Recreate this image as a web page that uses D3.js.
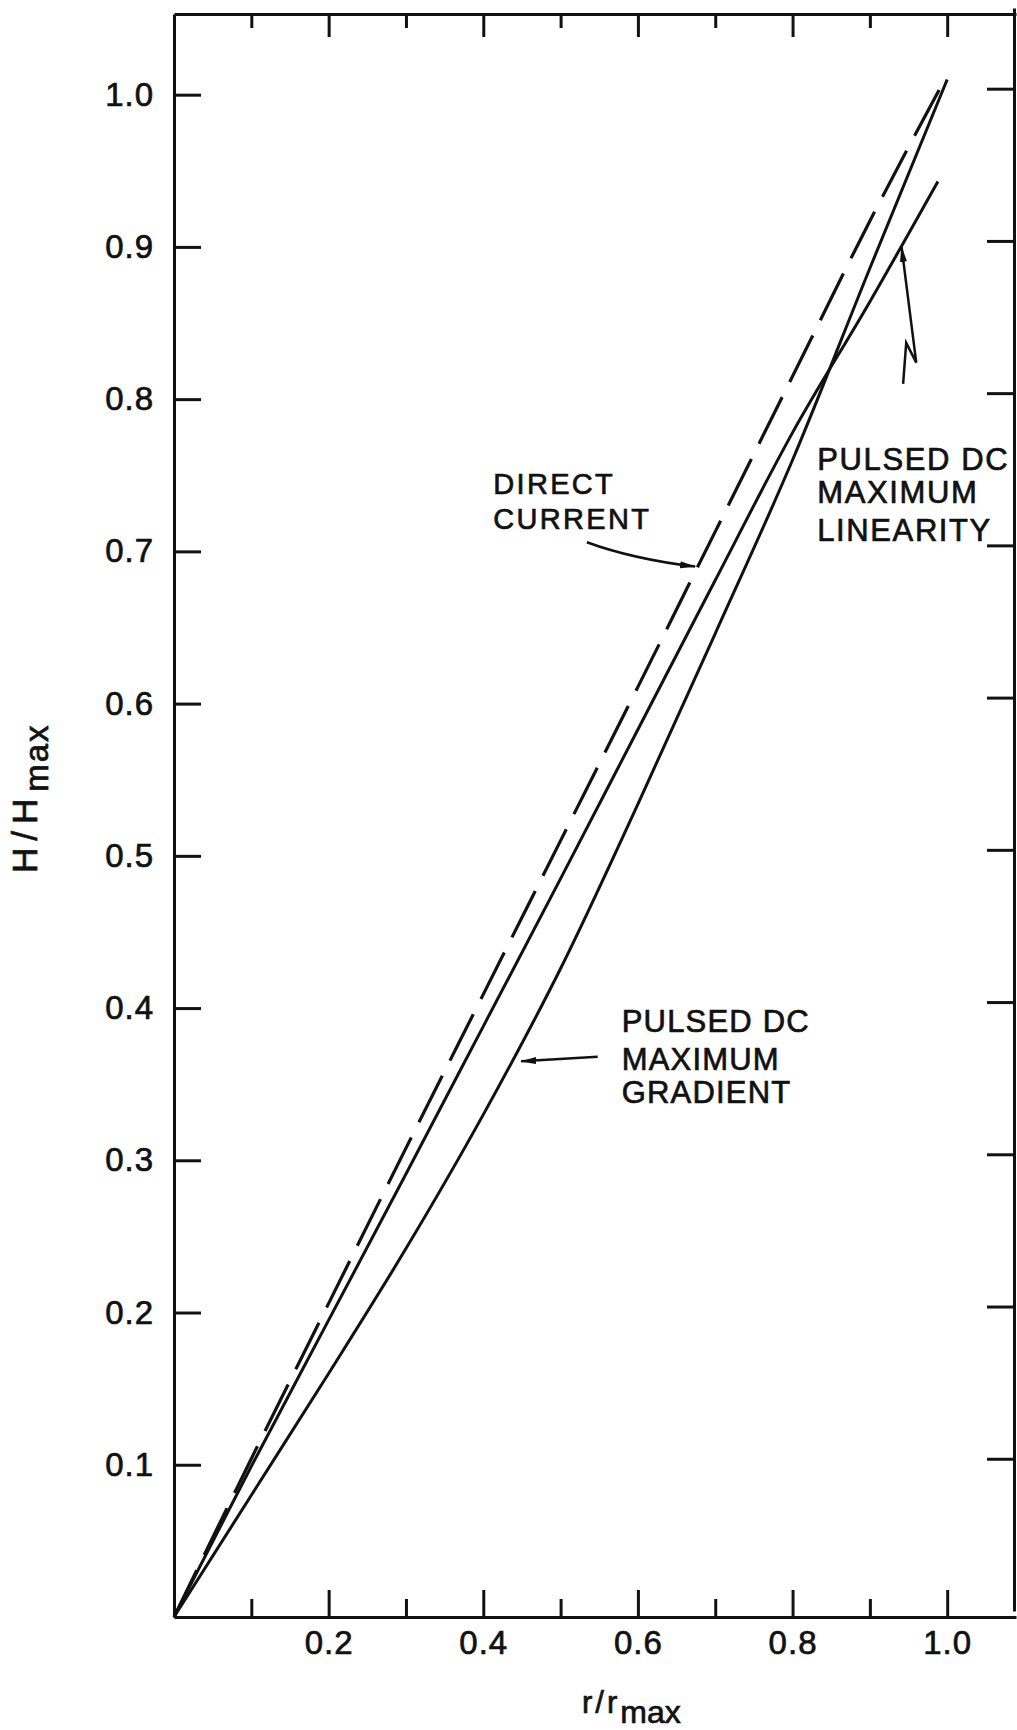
<!DOCTYPE html>
<html>
<head>
<meta charset="utf-8">
<script src="https://cdn.jsdelivr.net/npm/d3@7"></script>
<style>
  html, body { margin: 0; padding: 0; background: #fff; }
  svg { display: block; }
  text { font-family: "Liberation Sans", Arial, sans-serif; fill: #111; stroke: #111; stroke-width: 0.7px; }
</style>
</head>
<body>
<svg id="chart" width="1017" height="1730"></svg>
<script>
// Field profile H/H_max against normalised radius r/r_max for three drive modes.
const rDirect = [0, 0.1, 0.2, 0.3, 0.4, 0.5, 0.6, 0.7, 0.8, 0.9, 1.0];
const hDirect = [0, 0.104, 0.206, 0.308, 0.409, 0.510, 0.611, 0.713, 0.815, 0.917, 1.013];

const rLinearity = [0, 0.1, 0.2, 0.3, 0.4, 0.5, 0.6, 0.7, 0.8, 0.9, 0.988];
const hLinearity = [0, 0.099, 0.195, 0.291, 0.388, 0.485, 0.583, 0.681, 0.778, 0.864, 0.943];

const rGradient = [0, 0.1, 0.2, 0.3, 0.4, 0.5, 0.6, 0.7, 0.8, 0.9, 1.0];
const hGradient = [0, 0.080, 0.160, 0.242, 0.330, 0.426, 0.534, 0.646, 0.760, 0.886, 1.010];

// Tick positions and labels
const xMajorTicks = [0.2, 0.4, 0.6, 0.8, 1.0];
const xMinorTicks = [0.1, 0.3, 0.5, 0.7, 0.9];
const xTickLabels = ["0.2", "0.4", "0.6", "0.8", "1.0"];
const yTicks = [0.1, 0.2, 0.3, 0.4, 0.5, 0.6, 0.7, 0.8, 0.9, 1.0];
const yTickLabels = ["0.1", "0.2", "0.3", "0.4", "0.5", "0.6", "0.7", "0.8", "0.9", "1.0"];

const svg = d3.select("#chart");
const INK = "#111";

// Frame extents in data units (the box runs a little past 1.0 on both axes)
const xMaxFrame = 1.089, yMaxFrame = 1.053;
const x = d3.scaleLinear().domain([0, xMaxFrame]).range([174, 1016]);
const y = d3.scaleLinear().domain([0, yMaxFrame]).range([1617, 14]);

function styleAxis(g, fontSize) {
  g.selectAll("path.domain").attr("stroke", INK).attr("stroke-width", 3);
  g.selectAll(".tick line").attr("stroke", INK).attr("stroke-width", 3);
  g.selectAll(".tick text")
    .attr("fill", INK)
    .style("font-family", '"Liberation Sans", Arial, sans-serif')
    .style("font-size", fontSize + "px")
    .style("letter-spacing", "1px");
}

// Bottom axis: inward major ticks with labels, shorter minor ticks
const gBottom = svg.append("g").attr("transform", `translate(0,${y(0)})`)
  .call(d3.axisBottom(x).tickValues(xMajorTicks).tickSize(-27).tickSizeOuter(0)
    .tickPadding(14).tickFormat((d, i) => xTickLabels[i]));
styleAxis(gBottom, 33);
const gBottomMinor = svg.append("g").attr("transform", `translate(0,${y(0)})`)
  .call(d3.axisBottom(x).tickValues(xMinorTicks).tickSize(-18).tickSizeOuter(0).tickFormat(""));
gBottomMinor.select("path.domain").remove();
styleAxis(gBottomMinor, 33);

// Top axis: ticks only
const gTop = svg.append("g").attr("transform", `translate(0,${y(yMaxFrame)})`)
  .call(d3.axisTop(x).tickValues(xMajorTicks).tickSize(-23).tickSizeOuter(0).tickFormat(""));
styleAxis(gTop, 33);
const gTopMinor = svg.append("g").attr("transform", `translate(0,${y(yMaxFrame)})`)
  .call(d3.axisTop(x).tickValues(xMinorTicks).tickSize(-14).tickSizeOuter(0).tickFormat(""));
gTopMinor.select("path.domain").remove();
styleAxis(gTopMinor, 33);

// Left axis with labels
const gLeft = svg.append("g").attr("transform", `translate(${x(0)},0)`)
  .call(d3.axisLeft(y).tickValues(yTicks).tickSize(-27).tickSizeOuter(0)
    .tickPadding(20).tickFormat((d, i) => yTickLabels[i]));
styleAxis(gLeft, 33);

// Right axis: ticks only
const gRight = svg.append("g").attr("transform", `translate(${x(xMaxFrame) - 2},-6)`)
  .call(d3.axisRight(y).tickValues(yTicks).tickSize(-27).tickSizeOuter(0).tickFormat(""));
styleAxis(gRight, 33);

// Curves
const line = d3.line().x(d => x(d[0])).y(d => y(d[1])).curve(d3.curveMonotoneX);
const zipped = (rs, hs) => rs.map((r, i) => [r, hs[i]]);

svg.append("path").datum(zipped(rDirect, hDirect)).attr("d", line)
  .attr("fill", "none").attr("stroke", INK).attr("stroke-width", 3.2)
  .attr("stroke-dasharray", "52,17");
svg.append("path").datum(zipped(rLinearity, hLinearity)).attr("d", line)
  .attr("fill", "none").attr("stroke", INK).attr("stroke-width", 3);
svg.append("path").datum(zipped(rGradient, hGradient)).attr("d", line)
  .attr("fill", "none").attr("stroke", INK).attr("stroke-width", 3);

// Arrowhead marker
svg.append("defs").append("marker")
  .attr("id", "head").attr("viewBox", "0 0 16 10").attr("refX", 15).attr("refY", 5)
  .attr("markerWidth", 16).attr("markerHeight", 10).attr("markerUnits", "userSpaceOnUse")
  .attr("orient", "auto")
  .append("path").attr("d", "M0,1.5 L16,5 L0,8.5 Z").attr("fill", INK);

// Callout leaders (positions in data units)
const dcArrow = { from: [0.534, 0.706], ctrl: [0.593, 0.695], to: [0.674, 0.690] };
svg.append("path")
  .attr("d", `M${x(dcArrow.from[0])},${y(dcArrow.from[1])} Q${x(dcArrow.ctrl[0])},${y(dcArrow.ctrl[1])} ${x(dcArrow.to[0])},${y(dcArrow.to[1])}`)
  .attr("fill", "none").attr("stroke", INK).attr("stroke-width", 2.5).attr("marker-end", "url(#head)");

const gradArrow = [[0.548, 0.368], [0.449, 0.365]];
svg.append("path").attr("d", d3.line().x(d => x(d[0])).y(d => y(d[1]))(gradArrow))
  .attr("fill", "none").attr("stroke", INK).attr("stroke-width", 2.5).attr("marker-end", "url(#head)");

const linArrow = [[0.943, 0.810], [0.947, 0.837], [0.960, 0.824], [0.941, 0.900]];
svg.append("path").attr("d", d3.line().x(d => x(d[0])).y(d => y(d[1]))(linArrow))
  .attr("fill", "none").attr("stroke", INK).attr("stroke-width", 2.5).attr("marker-end", "url(#head)");

// Curve labels
function label(lines, x0, baselines, size, spacing) {
  lines.forEach((t, i) => {
    svg.append("text").attr("x", x(x0)).attr("y", y(baselines[i]))
      .style("font-size", size + "px").style("letter-spacing", spacing + "px").text(t);
  });
}
label(["DIRECT", "CURRENT"], 0.413, [0.738, 0.715], 29, 2.3);
label(["PULSED DC", "MAXIMUM", "LINEARITY"], 0.832, [0.7535, 0.7318, 0.7068], 31, 1.6);
label(["PULSED DC", "MAXIMUM", "GRADIENT"], 0.579, [0.3843, 0.3593, 0.3376], 31, 1.2);

// Axis titles
const xTitle = svg.append("text").attr("x", 582).attr("y", 1713).style("font-size", "31px");
xTitle.append("tspan").style("letter-spacing", "3px").text("r/r");
xTitle.append("tspan").attr("dy", 10).style("font-size", "32px").text("max");

const yTitle = svg.append("text").attr("transform", "translate(37,873) rotate(-90)")
  .style("font-size", "35px");
yTitle.append("tspan").style("letter-spacing", "7px").text("H/H");
yTitle.append("tspan").attr("dy", 11).style("font-size", "33px").style("letter-spacing", "2px").text("max");
</script>
</body>
</html>
